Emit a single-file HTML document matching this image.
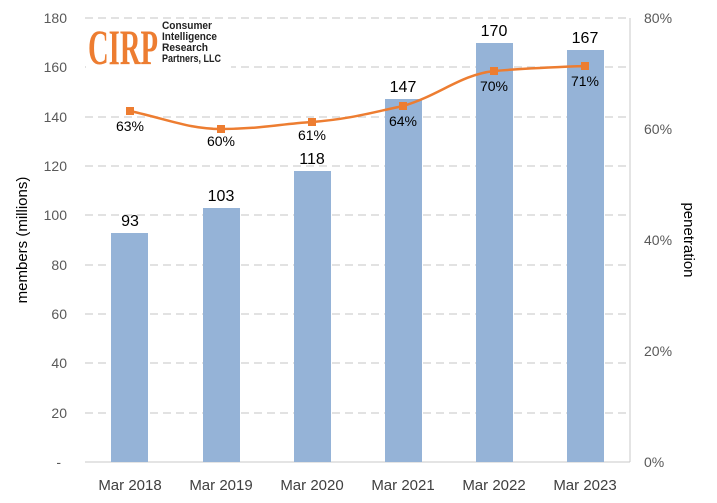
<!DOCTYPE html>
<html><head><style>body{margin:0;background:#fff}svg{display:block}</style></head><body>
<svg width="717" height="503" xmlns="http://www.w3.org/2000/svg" font-family="Liberation Sans, sans-serif">
<rect width="717" height="503" fill="#fff"/>
<g stroke="#d0d0d0" stroke-dasharray="8,5" stroke-width="1.3">
<line x1="85" x2="630" y1="18" y2="18"/><line x1="85" x2="630" y1="67" y2="67"/>
<line x1="85" x2="630" y1="117" y2="117"/><line x1="85" x2="630" y1="166" y2="166"/>
<line x1="85" x2="630" y1="215" y2="215"/><line x1="85" x2="630" y1="265" y2="265"/>
<line x1="85" x2="630" y1="314" y2="314"/><line x1="85" x2="630" y1="363" y2="363"/>
<line x1="85" x2="630" y1="413" y2="413"/>
</g>
<line x1="85" x2="630" y1="462" y2="462" stroke="#c8c8c8"/>
<line x1="630" x2="630" y1="18" y2="462" stroke="#c8c8c8"/>
<g fill="#95b3d7">
<rect x="111" y="233" width="37" height="229"/>
<rect x="203" y="208" width="37" height="254"/>
<rect x="294" y="171" width="37" height="291"/>
<rect x="385" y="99" width="37" height="363"/>
<rect x="476" y="43" width="37" height="419"/>
<rect x="567" y="50" width="37" height="412"/>
</g>
<g font-size="16" text-anchor="middle" fill="#000">
<text x="130" y="226">93</text><text x="221" y="201">103</text><text x="312" y="164">118</text>
<text x="403" y="92">147</text><text x="494" y="36">170</text><text x="585" y="43">167</text>
</g>
<path d="M130,111 C170,120 190,129 221,129 C260,129 280,124 312,122 C350,119 370,113 403,106 C440,95 460,75 494,71 C530,68 560,67 585,66" fill="none" stroke="#ed7d31" stroke-width="2.5"/>
<g fill="#ed7d31">
<rect x="126" y="107" width="8" height="8"/><rect x="217" y="125" width="8" height="8"/>
<rect x="308" y="118" width="8" height="8"/><rect x="399" y="102" width="8" height="8"/>
<rect x="490" y="67" width="8" height="8"/><rect x="581" y="62" width="8" height="8"/>
</g>
<g font-size="14" text-anchor="middle" fill="#000">
<text x="130" y="131">63%</text><text x="221" y="146">60%</text><text x="312" y="140">61%</text>
<text x="403" y="126">64%</text><text x="494" y="91">70%</text><text x="585" y="86">71%</text>
</g>
<g font-size="14" text-anchor="end" fill="#595959">
<text x="67" y="23">180</text><text x="67" y="72">160</text><text x="67" y="122">140</text>
<text x="67" y="171">120</text><text x="67" y="220">100</text><text x="67" y="270">80</text>
<text x="67" y="319">60</text><text x="67" y="368">40</text><text x="67" y="418">20</text>
<text x="61" y="467">-</text>
</g>
<g font-size="14" text-anchor="start" fill="#595959">
<text x="644" y="23">80%</text><text x="644" y="134">60%</text><text x="644" y="245">40%</text>
<text x="644" y="356">20%</text><text x="644" y="467">0%</text>
</g>
<g font-size="15" text-anchor="middle" fill="#404040">
<text x="130" y="490">Mar 2018</text><text x="221" y="490">Mar 2019</text><text x="312" y="490">Mar 2020</text>
<text x="403" y="490">Mar 2021</text><text x="494" y="490">Mar 2022</text><text x="585" y="490">Mar 2023</text>
</g>
<text transform="translate(27,240) rotate(-90)" font-size="15" text-anchor="middle">members (millions)</text>
<text transform="translate(684,240) rotate(90)" font-size="15" text-anchor="middle">penetration</text>
<rect x="86" y="19" width="145" height="50" fill="#fff"/>
<text x="88" y="64" font-family="Liberation Serif, serif" font-weight="bold" font-size="50" fill="#ed7d31" textLength="70" lengthAdjust="spacingAndGlyphs">CIRP</text>
<g font-size="11" font-weight="bold" fill="#222">
<text x="162" y="29" textLength="50" lengthAdjust="spacingAndGlyphs">Consumer</text>
<text x="162" y="40" textLength="55" lengthAdjust="spacingAndGlyphs">Intelligence</text>
<text x="162" y="51" textLength="46" lengthAdjust="spacingAndGlyphs">Research</text>
<text x="162" y="62" textLength="59" lengthAdjust="spacingAndGlyphs">Partners, LLC</text>
</g>
</svg>
</body></html>
